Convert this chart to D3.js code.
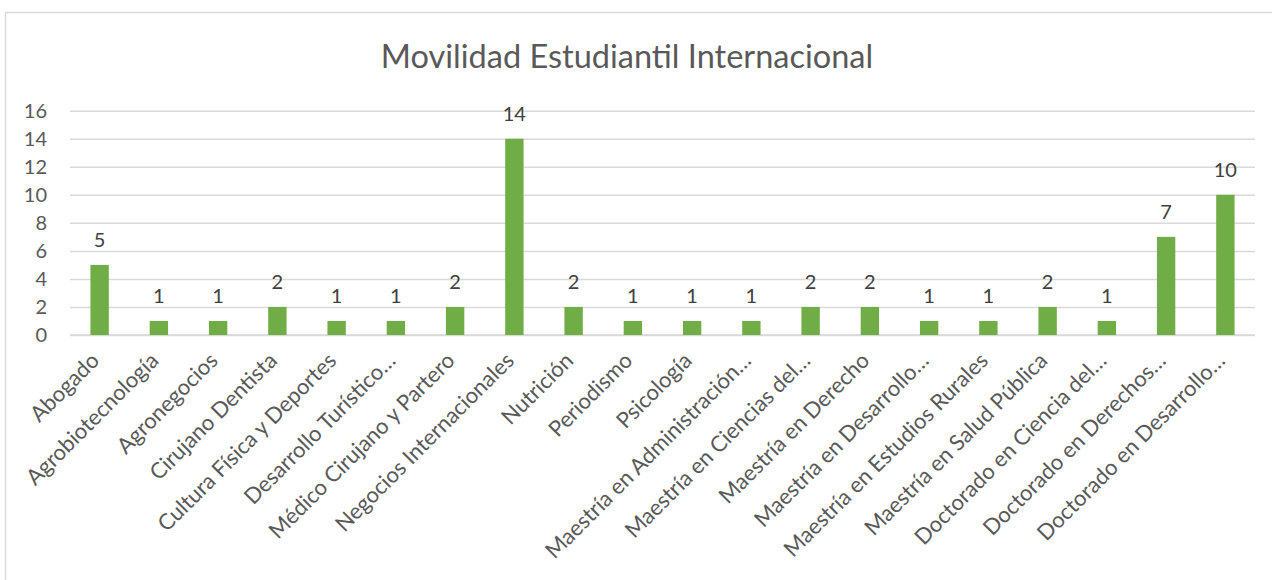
<!DOCTYPE html>
<html>
<head>
<meta charset="utf-8">
<script src="https://cdn.jsdelivr.net/npm/d3@7"></script>
<style>
  html, body { margin: 0; padding: 0; background: #fff; }
  svg { display: block; }
</style>
</head>
<body>
<svg id="chart" width="1272" height="580"></svg>
<script>
const categories = [
  "Abogado", "Agrobiotecnología", "Agronegocios", "Cirujano Dentista",
  "Cultura Física y Deportes", "Desarrollo Turístico…", "Médico Cirujano y Partero",
  "Negocios Internacionales", "Nutrición", "Periodismo", "Psicología",
  "Maestría en Administración…", "Maestría en Ciencias del…", "Maestría en Derecho",
  "Maestría en Desarrollo…", "Maestría en Estudios Rurales", "Maestría en Salud Pública",
  "Doctorado en Ciencia del…", "Doctorado en Derechos…", "Doctorado en Desarrollo…"
];
const values = [5, 1, 1, 2, 1, 1, 2, 14, 2, 1, 1, 1, 2, 2, 1, 1, 2, 1, 7, 10];
const yTicks = [0, 2, 4, 6, 8, 10, 12, 14, 16];
const title = "Movilidad Estudiantil Internacional";

const svg = d3.select("#chart");
const font = "Lato, 'Open Sans', sans-serif";

// chart border (extends past right/bottom edge)
svg.append("rect")
  .attr("x", 5.5).attr("y", 12.5)
  .attr("width", 1300).attr("height", 600)
  .attr("fill", "#fff").attr("stroke", "#D9D9D9").attr("stroke-width", 1.5);

const x = d3.scaleBand().domain(categories).range([70, 1255])
  .paddingInner(0.69).paddingOuter(0.345);
const y = d3.scaleLinear().domain([0, 16]).range([335, 110.7]);

// title
svg.append("text")
  .attr("x", 627).attr("y", 68)
  .attr("text-anchor", "middle")
  .attr("font-family", font).attr("font-weight", 400)
  .attr("font-size", 32.5).attr("fill", "#595959")
  .text(title);

// y axis (gridlines + labels)
const yAxis = d3.axisLeft(y).tickValues(yTicks).tickSize(-(1255 - 70)).tickPadding(23);
const gy = svg.append("g").attr("transform", "translate(70,0)").call(yAxis);
gy.select(".domain").remove();
gy.selectAll(".tick line").attr("stroke", "#D9D9D9").attr("stroke-width", 1.5);
gy.selectAll(".tick text")
  .attr("font-family", font).attr("font-size", 20).attr("fill", "#595959");

// x axis
const xAxis = d3.axisBottom(x).tickSize(0).tickPadding(0);
const gx = svg.append("g").attr("transform", "translate(0,335)").call(xAxis);
gx.select(".domain").attr("stroke", "#D9D9D9").attr("stroke-width", 1.5)
  .attr("d", "M70,0H1255");
gx.selectAll(".tick text")
  .attr("font-family", font).attr("font-size", 22).attr("fill", "#595959")
  .attr("text-anchor", "end")
  .attr("dy", 0).attr("y", 0)
  .attr("transform", "translate(1,27) rotate(-45)");

// bars
svg.append("g").selectAll("rect")
  .data(values)
  .join("rect")
  .attr("x", (d, i) => x(categories[i]))
  .attr("width", x.bandwidth())
  .attr("y", d => y(d))
  .attr("height", d => y(0) - y(d))
  .attr("fill", "#70AD47");

// data labels
svg.append("g").selectAll("text")
  .data(values)
  .join("text")
  .attr("x", (d, i) => x(categories[i]) + x.bandwidth() / 2)
  .attr("y", d => y(d) - 17.5)
  .attr("text-anchor", "middle")
  .attr("font-family", font).attr("font-size", 20).attr("fill", "#404040")
  .text(d => d);
</script>
</body>
</html>
